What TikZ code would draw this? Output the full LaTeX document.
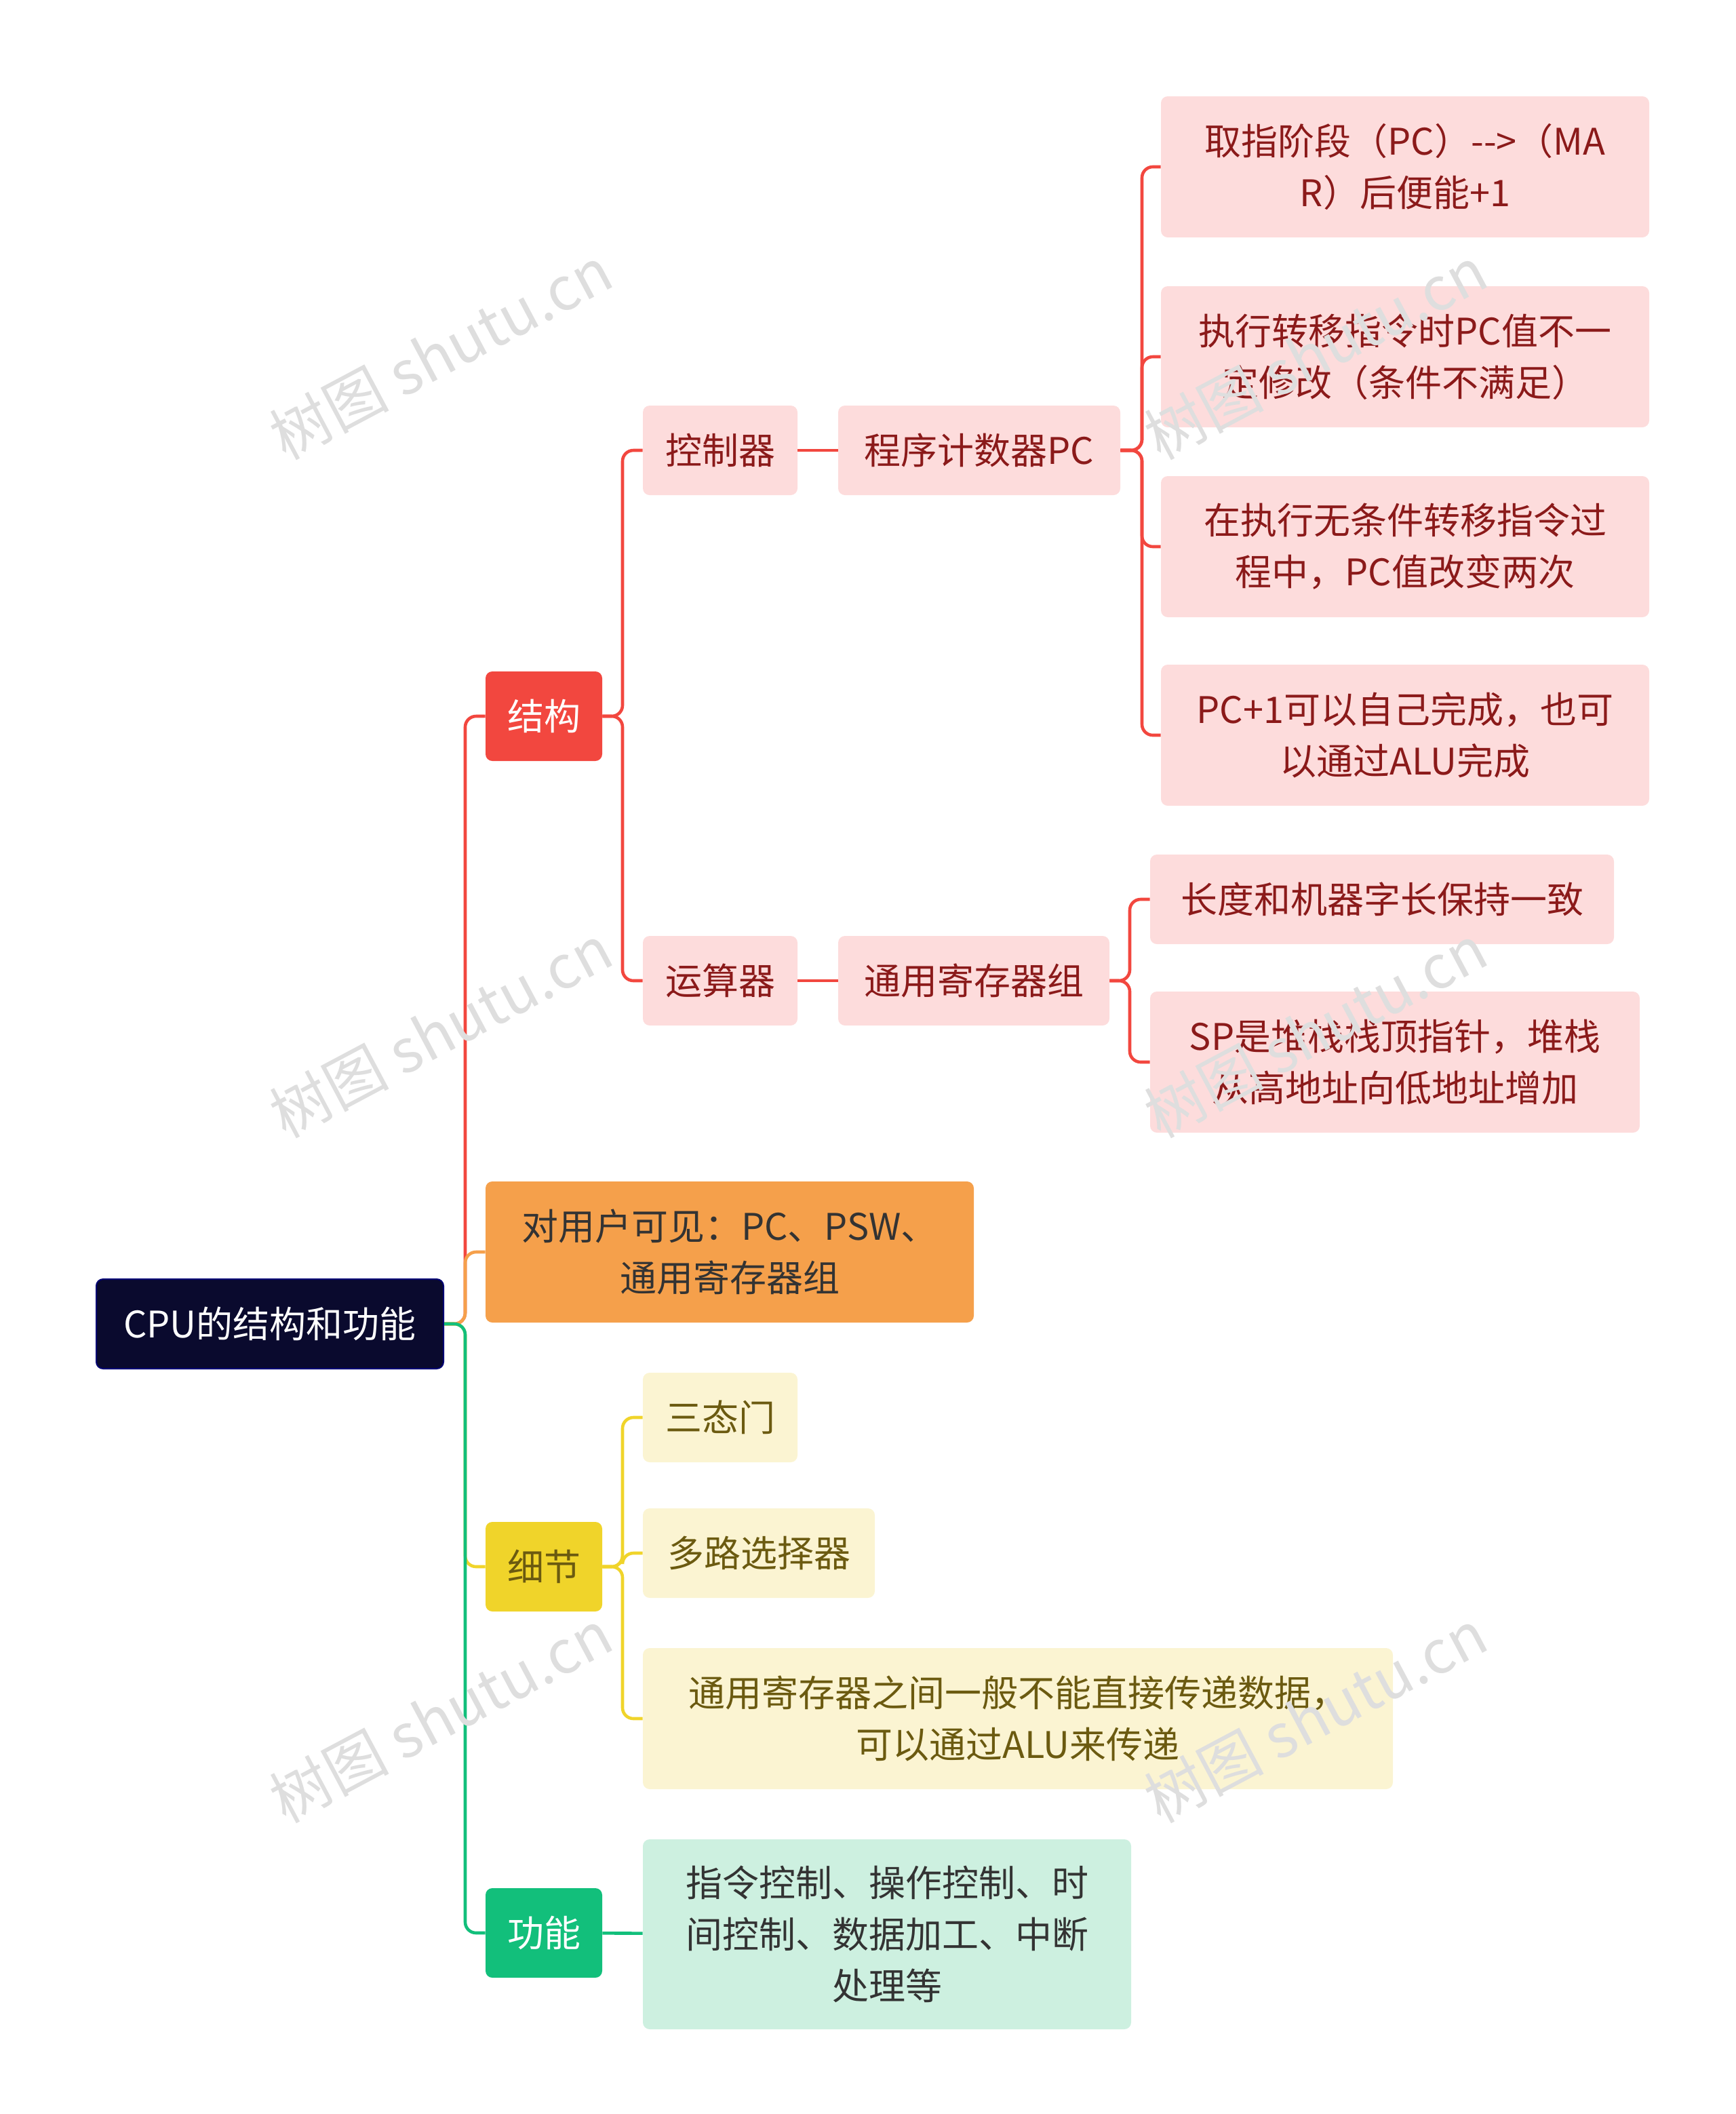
\documentclass[tikz,border=0pt]{standalone}
\usepackage{fontspec}
\setmainfont{Noto Sans CJK SC}
\newfontfamily\wmfont{Noto Sans CJK SC}
\usetikzlibrary{positioning}
\definecolor{rootc}{HTML}{0A0A2E}
\definecolor{redc}{HTML}{F2473F}
\definecolor{orangec}{HTML}{F5A04B}
\definecolor{yellowc}{HTML}{F0D42A}
\definecolor{greenc}{HTML}{12BF7B}
\definecolor{pinkc}{HTML}{FDDCDC}
\definecolor{creamc}{HTML}{FBF4D2}
\definecolor{mintc}{HTML}{CDF0E0}
\definecolor{pinktext}{HTML}{8B1A1A}
\definecolor{creamtext}{HTML}{6B5A10}
\tikzset{
  box/.style={rectangle, rounded corners=5pt, inner sep=0pt, align=center,
    font=\fontsize{27}{38}\selectfont},
  pinkbox/.style={box, fill=pinkc, text=pinktext},
  creambox/.style={box, fill=creamc, text=creamtext},
  link/.style={line width=2.3pt, rounded corners=8pt},
  wm/.style={rotate=28, text=black!13, font=\fontsize{44}{44}\selectfont\wmfont}
}
\begin{document}
\begin{tikzpicture}[x=1pt, y=-1pt]
  \useasboundingbox (0,0) rectangle (1280,1558.5);
  % main branches
  \node[box, fill=rootc, draw=blue!45!black, line width=1pt, text=white, minimum width=256pt, minimum height=66pt] (root) at (199,976) {CPU的结构和功能};
  \node[box, fill=redc, text=white, minimum width=86pt, minimum height=66pt] (jg) at (401,528) {结构};
  \node[box, fill=orangec, text=black!80, minimum width=360pt, minimum height=104pt] (kj) at (538,923) {对用户可见：PC、PSW、\\通用寄存器组};
  \node[box, fill=yellowc, text=creamtext, minimum width=86pt, minimum height=66pt] (xj) at (401,1155) {细节};
  \node[box, fill=greenc, text=white, minimum width=86pt, minimum height=66pt] (gn) at (401,1425) {功能};
  % structure
  \node[pinkbox, minimum width=114pt, minimum height=66pt] (kzq) at (531,332) {控制器};
  \node[pinkbox, minimum width=208pt, minimum height=66pt] (pc) at (722,332) {程序计数器PC};
  \node[pinkbox, minimum width=114pt, minimum height=66pt] (ysq) at (531,723) {运算器};
  \node[pinkbox, minimum width=200pt, minimum height=66pt] (jcq) at (718,723) {通用寄存器组};
  \node[pinkbox, minimum width=360pt, minimum height=104pt] (pc1) at (1036,123) {取指阶段（PC）{-}{-}>（MA\\R）后便能+1};
  \node[pinkbox, minimum width=360pt, minimum height=104pt] (pc2) at (1036,263) {执行转移指令时PC值不一\\定修改（条件不满足）};
  \node[pinkbox, minimum width=360pt, minimum height=104pt] (pc3) at (1036,403) {在执行无条件转移指令过\\程中，PC值改变两次};
  \node[pinkbox, minimum width=360pt, minimum height=104pt] (pc4) at (1036,542) {PC+1可以自己完成，也可\\以通过ALU完成};
  \node[pinkbox, minimum width=342pt, minimum height=66pt] (jc1) at (1019,663) {长度和机器字长保持一致};
  \node[pinkbox, minimum width=361pt, minimum height=104pt] (jc2) at (1028.5,783) {SP是堆栈栈顶指针，堆栈\\从高地址向低地址增加};
  % details
  \node[creambox, minimum width=114pt, minimum height=66pt] (xj1) at (531,1045) {三态门};
  \node[creambox, minimum width=171pt, minimum height=66pt] (xj2) at (559.5,1145) {多路选择器};
  \node[creambox, minimum width=553pt, minimum height=104pt] (xj3) at (750.5,1267) {通用寄存器之间一般不能直接传递数据，\\可以通过ALU来传递};
  % function
  \node[box, fill=mintc, text=black!80, minimum width=360pt, minimum height=140pt] (gn1) at (654,1426) {指令控制、操作控制、时\\间控制、数据加工、中断\\处理等};
  % connectors
  \draw[link, redc] (root.east) -- (343,976) |- (jg.west);
  \draw[link, orangec] (root.east) -- (343,976) |- (kj.west);
  \draw[link, yellowc] (root.east) -- (343,976) |- (xj.west);
  \draw[link, greenc] (root.east) -- (343,976) |- (gn.west);
  \foreach \c in {kzq,ysq}
    \draw[link, redc] (jg.east) -- (459,528) |- (\c.west);
  \draw[link, redc] (kzq) -- (pc);
  \draw[link, redc] (ysq) -- (jcq);
  \foreach \c in {pc1,pc2,pc3,pc4}
    \draw[link, redc] (pc.east) -- (842,332) |- (\c.west);
  \foreach \c in {jc1,jc2}
    \draw[link, redc] (jcq.east) -- (833,723) |- (\c.west);
  \foreach \c in {xj1,xj2,xj3}
    \draw[link, yellowc] (xj.east) -- (459,1155) |- (\c.west);
  \draw[link, greenc] (gn) -- (gn1);
  % watermarks
  \foreach \x in {325,970}
    \foreach \y in {260,760,1265}
      \node[wm] (w\x\y) at (\x,\y) {树图 shutu.cn};
\end{tikzpicture}
\end{document}
